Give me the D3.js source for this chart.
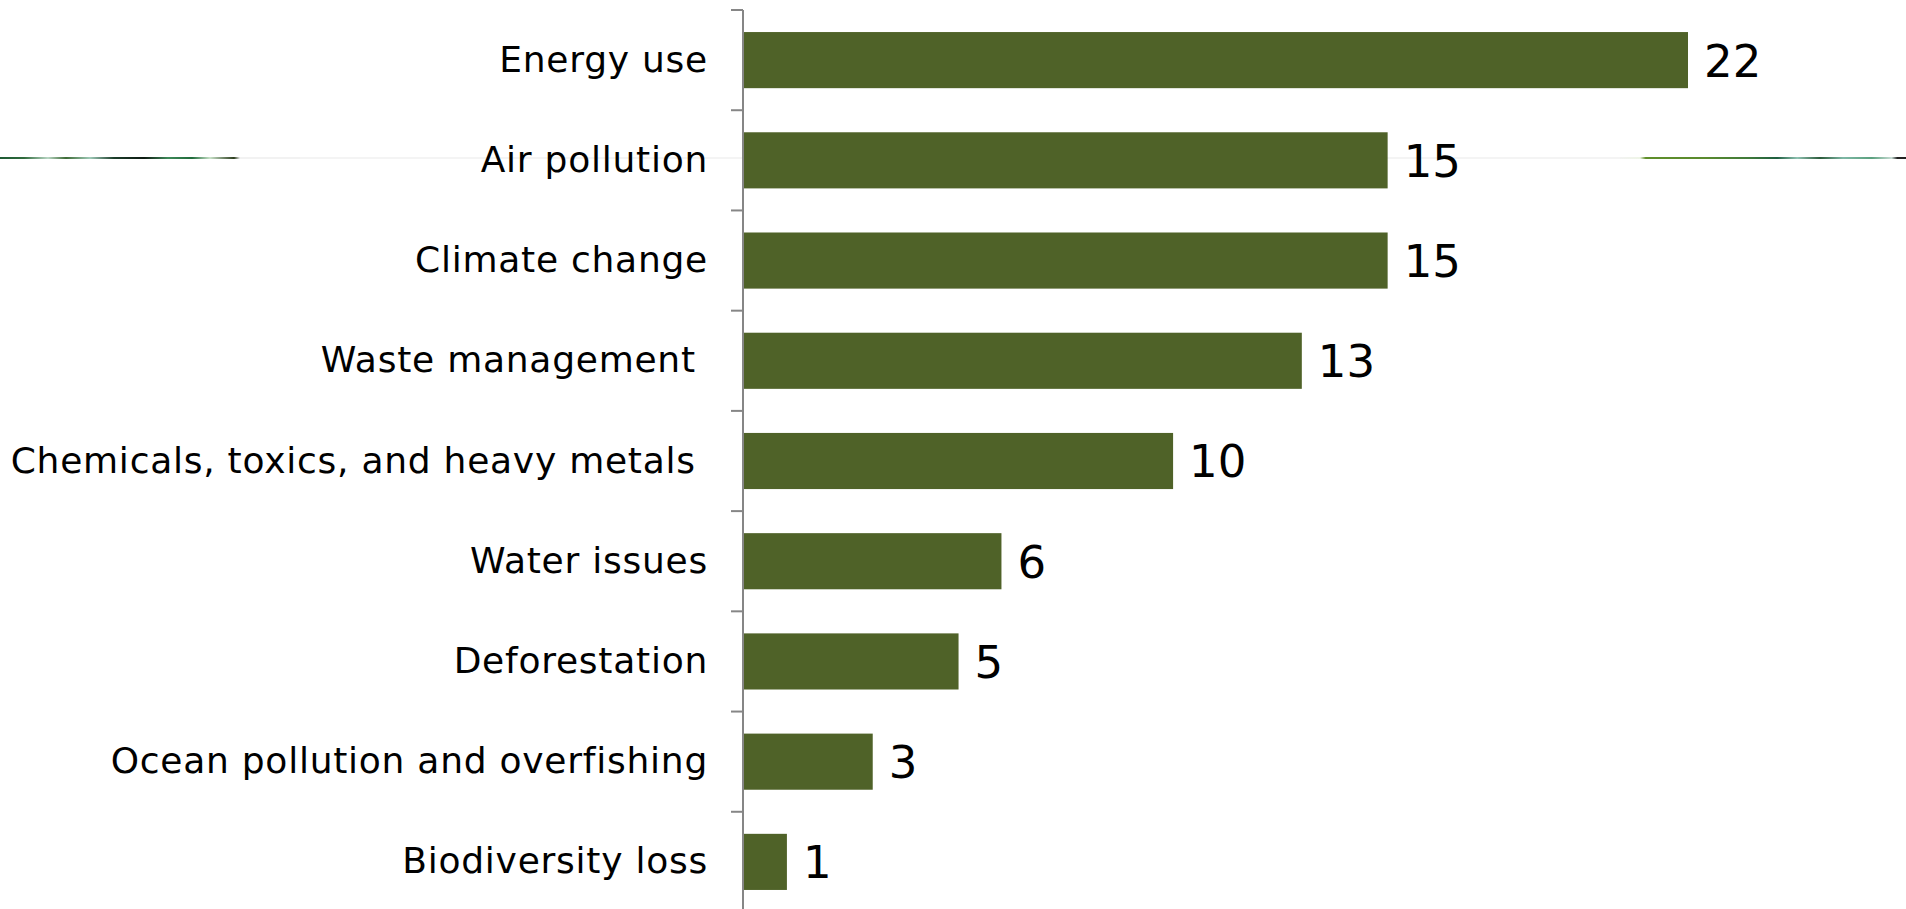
<!DOCTYPE html>
<html>
<head>
<meta charset="utf-8">
<script src="https://cdn.jsdelivr.net/npm/d3@7"></script>
<style>
  html, body { margin: 0; padding: 0; background: #ffffff; }
  svg { display: block; }
  text { font-family: Verdana, "DejaVu Sans", sans-serif; fill: #000; }
</style>
</head>
<body>
<svg id="chart" width="1906" height="909"></svg>
<script>
// Environmental issues, number of mentions
const categories = [
  "Energy use",
  "Air pollution",
  "Climate change",
  "Waste management ",
  "Chemicals, toxics, and heavy metals ",
  "Water issues",
  "Deforestation",
  "Ocean pollution and overfishing",
  "Biodiversity loss"
];
const values = [22, 15, 15, 13, 10, 6, 5, 3, 1];

const width = 1906, height = 909;
const axisX = 743;
const svg = d3.select("#chart");

// Decorative slide rule behind the chart
const defs = svg.append("defs");
const gradL = defs.append("linearGradient").attr("id", "ruleLeft")
  .attr("gradientUnits", "userSpaceOnUse").attr("x1", 0).attr("x2", 300).attr("y1", 0).attr("y2", 0);
[[0, "#1d5a34"], [0.08, "#2f6a3c"], [0.16, "#b9d6c4"], [0.22, "#3c6a35"], [0.3, "#9fcab8"],
 [0.38, "#1b3d2a"], [0.48, "#0d1a12"], [0.56, "#3f8a5a"], [0.64, "#1f6a3a"], [0.7, "#c9e2c9"],
 [0.78, "#2b3d1e"], [0.8, "#f2f2f2"], [1, "#f2f2f2"]]
  .forEach(([o, c]) => gradL.append("stop").attr("offset", o).attr("stop-color", c));
const gradR = defs.append("linearGradient").attr("id", "ruleRight")
  .attr("gradientUnits", "userSpaceOnUse").attr("x1", 1620).attr("x2", 1906).attr("y1", 0).attr("y2", 0);
[[0, "#f2f2f2"], [0.07, "#eef5e6"], [0.09, "#5f8f2a"], [0.3, "#5a8a2e"], [0.45, "#3f7a3a"],
 [0.55, "#1e5e40"], [0.62, "#8fc2b2"], [0.7, "#2a5a3a"], [0.78, "#7fb8a6"], [0.88, "#5aa07e"],
 [0.95, "#c8dcd4"], [0.97, "#222222"], [1, "#222222"]]
  .forEach(([o, c]) => gradR.append("stop").attr("offset", o).attr("stop-color", c));

svg.append("line").attr("x1", 0).attr("x2", width).attr("y1", 158).attr("y2", 158)
  .attr("stroke", "#f0f0f0").attr("stroke-width", 1.5);
svg.append("line").attr("x1", 0).attr("x2", 300).attr("y1", 158).attr("y2", 158)
  .attr("stroke", "url(#ruleLeft)").attr("stroke-width", 2);
svg.append("line").attr("x1", 1620).attr("x2", width).attr("y1", 158).attr("y2", 158)
  .attr("stroke", "url(#ruleRight)").attr("stroke-width", 2);

// Scales
const y = d3.scaleBand()
  .domain(categories)
  .range([10, 912])
  .paddingInner(0.44)
  .paddingOuter(0.22);
const x = d3.scaleLinear()
  .domain([0, 22])
  .range([axisX + 1, 1688]);

// Bars
svg.append("g").selectAll("rect")
  .data(categories)
  .join("rect")
  .attr("x", x(0))
  .attr("y", d => y(d))
  .attr("width", (d, i) => x(values[i]) - x(0))
  .attr("height", y.bandwidth())
  .attr("fill", "#4f6228");

// Category axis
const axis = d3.axisLeft(y).tickSize(0).tickPadding(35).tickSizeOuter(0);
const gAxis = svg.append("g").attr("transform", `translate(${axisX},0)`).call(axis);
gAxis.select(".domain").remove();
gAxis.selectAll("text")
  .attr("font-size", 36)
  .attr("font-family", 'Verdana, "DejaVu Sans", sans-serif')
  .attr("fill", "#000")
  .attr("letter-spacing", 0.75)
  .style("white-space", "pre");

svg.append("line")
  .attr("x1", axisX).attr("x2", axisX)
  .attr("y1", 10).attr("y2", height)
  .attr("stroke", "#868686").attr("stroke-width", 2);

// Tick marks between categories
const step = y.step();
const boundaries = categories.map(c => y(c) - step * y.paddingInner() / 2);
svg.append("g").selectAll("line")
  .data(boundaries)
  .join("line")
  .attr("x1", axisX - 12).attr("x2", axisX)
  .attr("y1", d => d).attr("y2", d => d)
  .attr("stroke", "#868686").attr("stroke-width", 2);

// Value labels
svg.append("g").selectAll("text")
  .data(categories)
  .join("text")
  .attr("x", (d, i) => x(values[i]) + 16)
  .attr("y", d => y(d) + y.bandwidth() / 2 + 45 * 0.365)
  .attr("font-size", 45)
  .text((d, i) => values[i]);
</script>
</body>
</html>
